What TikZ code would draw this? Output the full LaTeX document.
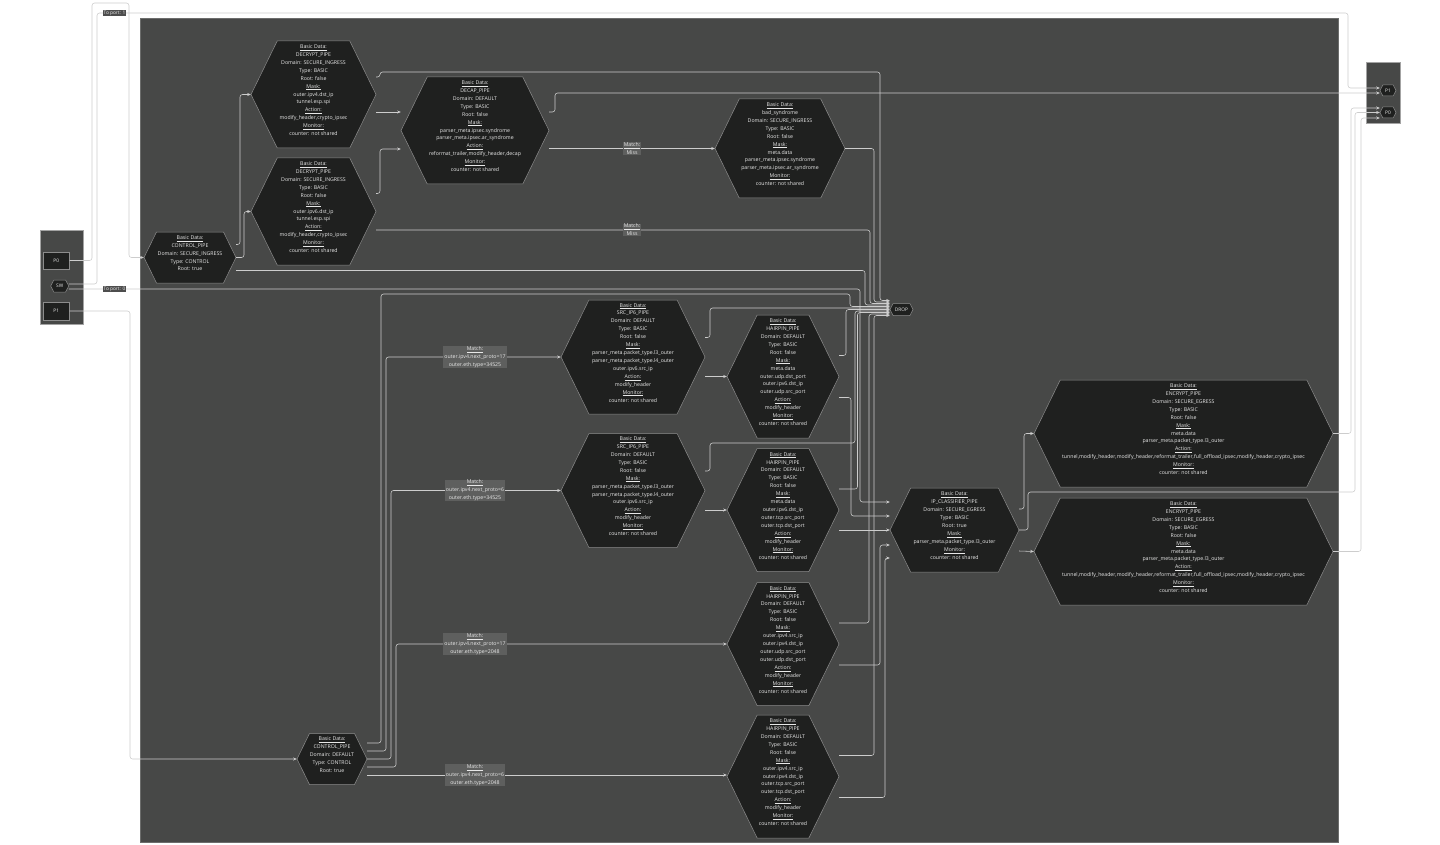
\documentclass[tikz,border=0pt]{standalone}
\usepackage{fontspec}
\setmainfont{Open Sans}
\usetikzlibrary{calc,arrows.meta}
\definecolor{bgdark}{HTML}{474847}
\definecolor{hexfill}{HTML}{1F201F}
\definecolor{hexline}{HTML}{8C8C8C}
\definecolor{edgecol}{HTML}{CDCDCD}
\definecolor{txtcol}{HTML}{E8E8E8}
\definecolor{lblfill}{HTML}{5E5F5E}
\definecolor{portlblfill}{HTML}{4D4D4D}
\newcommand\hdr[1]{\underline{#1}}
\newcommand\hexat[6]{%
  \path[hexsty] ({#2-#4/2},#3) -- ({#2-#4/2+0.245*#5},{#3-#5/2}) -- ({#2+#4/2-0.245*#5},{#3-#5/2}) -- ({#2+#4/2},#3) -- ({#2+#4/2-0.245*#5},{#3+#5/2}) -- ({#2-#4/2+0.245*#5},{#3+#5/2}) -- cycle;
  \node[hextext, minimum width=#4pt, minimum height=#5pt] (#1) at (#2,#3) {\raisebox{4pt}[\height][\depth]{\begin{tabular}{@{}c@{}}#6\end{tabular}}};
}
\newcommand\smallhex[6]{%
  \path[hexsty] ({#2-#4/2},#3) -- ({#2-#4/2+0.26*#5},{#3-#5/2}) -- ({#2+#4/2-0.26*#5},{#3-#5/2}) -- ({#2+#4/2},#3) -- ({#2+#4/2-0.26*#5},{#3+#5/2}) -- ({#2-#4/2+0.26*#5},{#3+#5/2}) -- cycle;
  \node[smalltext, minimum width=#4pt, minimum height=#5pt] (#1) at (#2,#3) {#6};
}
\tikzset{
  hexsty/.style={fill=hexfill, draw=hexline, line width=0.5pt},
  hextext/.style={inner sep=0pt, text=txtcol, font=\fontsize{5.2}{7.92}\selectfont, align=center},
  smalltext/.style={inner sep=0pt, text=txtcol, font=\fontsize{4.8}{5.5}\selectfont},
  edge/.style={draw=edgecol, line width=0.55pt, rounded corners=2.5pt, -{Stealth[length=3.6pt,width=3pt]}},
  matchlbl/.style={fill=lblfill, text=txtcol, font=\fontsize{5.2}{7.92}\selectfont, inner xsep=1pt, inner ysep=0.4pt, align=center},
  portlbl/.style={fill=portlblfill, text=txtcol, font=\fontsize{4.8}{5.5}\selectfont, inner xsep=1pt, inner ysep=0.6pt},
  portrect/.style={fill=hexfill, draw=hexline, line width=0.5pt, text=txtcol, font=\fontsize{4.8}{5.5}\selectfont, inner sep=0pt, minimum width=26pt, minimum height=17.5pt},
  group/.style={fill=bgdark, draw=hexline!80, line width=0.4pt}
}
\begin{document}
\begin{tikzpicture}[x=1pt,y=-1pt]
\useasboundingbox (0,0) rectangle (1440,845);
\fill[white] (0,0) rectangle (1440,845);
% groups
\path[fill=bgdark, draw=bgdark!80!white, line width=0.4pt] (140,18) rectangle (1338,842);
\path[group] (40,230) rectangle (83,324);
\path[group] (1366,62) rectangle (1400,123);
% ports
\node[portrect] (p0l) at (56.3,260.5) {P0};
\node[portrect] (p1l) at (56.3,311) {P1};
\smallhex{swhex}{59.7}{286}{18}{12}{SW}
\smallhex{p1r}{1388}{90.5}{16}{11}{P1}
\smallhex{p0r}{1388}{112.5}{16}{11}{P0}
\smallhex{drop}{901.5}{309.5}{23}{12}{DROP}
% pipes
\hexat{cp1}{190}{257.5}{92}{51}{\hdr{Basic Data:}\\CONTROL\_PIPE\\Domain: SECURE\_INGRESS\\Type: CONTROL\\Root: true}
\hexat{dec1}{313.5}{94.5}{125}{107}{\hdr{Basic Data:}\\DECRYPT\_PIPE\\Domain: SECURE\_INGRESS\\Type: BASIC\\Root: false\\\hdr{Mask:}\\outer.ipv4.dst\_ip\\tunnel.esp.spi\\\hdr{Action:}\\modify\_header,crypto\_ipsec\\\hdr{Monitor:}\\counter: not shared}
\hexat{dec2}{313.5}{211.5}{125}{107}{\hdr{Basic Data:}\\DECRYPT\_PIPE\\Domain: SECURE\_INGRESS\\Type: BASIC\\Root: false\\\hdr{Mask:}\\outer.ipv6.dst\_ip\\tunnel.esp.spi\\\hdr{Action:}\\modify\_header,crypto\_ipsec\\\hdr{Monitor:}\\counter: not shared}
\hexat{decap}{475}{130.5}{148}{107}{\hdr{Basic Data:}\\DECAP\_PIPE\\Domain: DEFAULT\\Type: BASIC\\Root: false\\\hdr{Mask:}\\parser\_meta.ipsec.syndrome\\parser\_meta.ipsec.ar\_syndrome\\\hdr{Action:}\\reformat\_trailer,modify\_header,decap\\\hdr{Monitor:}\\counter: not shared}
\hexat{bad}{780}{148.5}{130}{99}{\hdr{Basic Data:}\\bad\_syndrome\\Domain: SECURE\_INGRESS\\Type: BASIC\\Root: false\\\hdr{Mask:}\\meta.data\\parser\_meta.ipsec.syndrome\\parser\_meta.ipsec.ar\_syndrome\\\hdr{Monitor:}\\counter: not shared}
\hexat{src1}{633}{357}{144}{114}{\hdr{Basic Data:}\\SRC\_IP6\_PIPE\\Domain: DEFAULT\\Type: BASIC\\Root: false\\\hdr{Mask:}\\parser\_meta.packet\_type.l3\_outer\\parser\_meta.packet\_type.l4\_outer\\outer.ipv6.src\_ip\\\hdr{Action:}\\modify\_header\\\hdr{Monitor:}\\counter: not shared}
\hexat{src2}{633}{490.5}{144}{114}{\hdr{Basic Data:}\\SRC\_IP6\_PIPE\\Domain: DEFAULT\\Type: BASIC\\Root: false\\\hdr{Mask:}\\parser\_meta.packet\_type.l3\_outer\\parser\_meta.packet\_type.l4\_outer\\outer.ipv6.src\_ip\\\hdr{Action:}\\modify\_header\\\hdr{Monitor:}\\counter: not shared}
\hexat{hp1}{783}{376.5}{112}{123}{\hdr{Basic Data:}\\HAIRPIN\_PIPE\\Domain: DEFAULT\\Type: BASIC\\Root: false\\\hdr{Mask:}\\meta.data\\outer.udp.dst\_port\\outer.ipv6.dst\_ip\\outer.udp.src\_port\\\hdr{Action:}\\modify\_header\\\hdr{Monitor:}\\counter: not shared}
\hexat{hp2}{783}{510}{112}{123}{\hdr{Basic Data:}\\HAIRPIN\_PIPE\\Domain: DEFAULT\\Type: BASIC\\Root: false\\\hdr{Mask:}\\meta.data\\outer.ipv6.dst\_ip\\outer.tcp.src\_port\\outer.tcp.dst\_port\\\hdr{Action:}\\modify\_header\\\hdr{Monitor:}\\counter: not shared}
\hexat{hp3}{783}{644}{112}{123}{\hdr{Basic Data:}\\HAIRPIN\_PIPE\\Domain: DEFAULT\\Type: BASIC\\Root: false\\\hdr{Mask:}\\outer.ipv4.src\_ip\\outer.ipv4.dst\_ip\\outer.udp.src\_port\\outer.udp.dst\_port\\\hdr{Action:}\\modify\_header\\\hdr{Monitor:}\\counter: not shared}
\hexat{hp4}{783}{776.5}{112}{123}{\hdr{Basic Data:}\\HAIRPIN\_PIPE\\Domain: DEFAULT\\Type: BASIC\\Root: false\\\hdr{Mask:}\\outer.ipv4.src\_ip\\outer.ipv4.dst\_ip\\outer.tcp.src\_port\\outer.tcp.dst\_port\\\hdr{Action:}\\modify\_header\\\hdr{Monitor:}\\counter: not shared}
\hexat{cp2}{332}{759}{70}{51}{\hdr{Basic Data:}\\CONTROL\_PIPE\\Domain: DEFAULT\\Type: CONTROL\\Root: true}
\hexat{ipc}{954.5}{530}{129}{84}{\hdr{Basic Data:}\\IP\_CLASSIFIER\_PIPE\\Domain: SECURE\_EGRESS\\Type: BASIC\\Root: true\\\hdr{Mask:}\\parser\_meta.packet\_type.l3\_outer\\\hdr{Monitor:}\\counter: not shared}
\hexat{enc1}{1183.5}{433.5}{299}{107}{\hdr{Basic Data:}\\ENCRYPT\_PIPE\\Domain: SECURE\_EGRESS\\Type: BASIC\\Root: false\\\hdr{Mask:}\\meta.data\\parser\_meta.packet\_type.l3\_outer\\\hdr{Action:}\\tunnel,modify\_header,modify\_header,reformat\_trailer,full\_offload\_ipsec,modify\_header,crypto\_ipsec\\\hdr{Monitor:}\\counter: not shared}
\hexat{enc2}{1183.5}{551.5}{299}{107}{\hdr{Basic Data:}\\ENCRYPT\_PIPE\\Domain: SECURE\_EGRESS\\Type: BASIC\\Root: false\\\hdr{Mask:}\\meta.data\\parser\_meta.packet\_type.l3\_outer\\\hdr{Action:}\\tunnel,modify\_header,modify\_header,reformat\_trailer,full\_offload\_ipsec,modify\_header,crypto\_ipsec\\\hdr{Monitor:}\\counter: not shared}
% edges from ports
\draw[edge] (p0l.east) -- (92,260.5) -- (92,3) -- (129,3) -- (129,257.5) -- (cp1.west);
\draw[edge] ($(swhex.east)+(0,-2)$) -- (97,284) -- (97,13) -- (1348,13) -- (1348,88) -- ($(p1r.west)+(0,-2.5)$);
\draw[edge] ($(swhex.east)+(0,3)$) -- (860,289) -- (860,502) -- ($(ipc.west)+(0,-28)$);
\draw[edge] (p1l.east) -- (130,311) -- (130,759) -- (cp2.west);
% CP1
\draw[edge] ($(cp1.east)+(0,-13)$) -- (240,244.5) -- (240,94.5) -- (dec1.west);
\draw[edge] (cp1.east) -- (244,257.5) -- (244,211.5) -- (dec2.west);
\draw[edge] ($(cp1.east)+(0,13)$) -- (865,270.5) -- (865,305) -- ($(drop.west)+(0,-4.5)$);
% DEC1 / DEC2
\draw[edge] ($(dec1.east)+(0,-17.5)$) -- (380,77) -- (380,72) -- (880,72) -- (880,300.5) -- ($(drop.west)+(0,-9)$);
\draw[edge] ($(dec1.east)+(0,17.5)$) -- ($(decap.west)+(0,-18.5)$);
\draw[edge] ($(dec2.east)+(0,-18)$) -- (380,193.5) -- (380,149) -- ($(decap.west)+(0,18.5)$);
\draw[edge] ($(dec2.east)+(0,18.5)$) -- (870,230) -- (870,303.5) -- ($(drop.west)+(0,-6)$);
% DECAP / BAD
\draw[edge] ($(decap.east)+(0,18)$) -- (bad.west);
\draw[edge] ($(decap.east)+(0,-18.5)$) -- (555,112) -- (555,93) -- ($(p1r.west)+(0,2.5)$);
\draw[edge] (bad.east) -- (874,148.5) -- (874,302) -- ($(drop.west)+(0,-7.5)$);
% CP2
\draw[edge] ($(cp2.east)+(0,-16)$) -- (381,743) -- (381,294) -- (850,294) -- (850,306.5) -- ($(drop.west)+(0,-3)$);
\draw[edge] ($(cp2.east)+(0,-8)$) -- (386,751) -- (386,357) -- (src1.west);
\draw[edge] (cp2.east) -- (391,759) -- (391,490.5) -- (src2.west);
\draw[edge] ($(cp2.east)+(0,8)$) -- (396,767) -- (396,644) -- (hp3.west);
\draw[edge] ($(cp2.east)+(0,16)$) -- ($(hp4.west)+(0,-1.5)$);
% SRC
\draw[edge] ($(src1.east)+(0,-19.5)$) -- (710,337.5) -- (710,308) -- ($(drop.west)+(0,-1.5)$);
\draw[edge] ($(src1.east)+(0,19.5)$) -- (hp1.west);
\draw[edge] ($(src2.east)+(0,-19.5)$) -- (710,471) -- (710,443) -- (855,443) -- (855,311) -- ($(drop.west)+(0,1.5)$);
\draw[edge] ($(src2.east)+(0,19.5)$) -- (hp2.west);
% HAIRPIN
\draw[edge] ($(hp1.east)+(0,-21)$) -- (846,355.5) -- (846,309.5) -- (drop.west);
\draw[edge] ($(hp1.east)+(0,21)$) -- (851,397.5) -- (851,516) -- ($(ipc.west)+(0,-14)$);
\draw[edge] ($(hp2.east)+(0,-21)$) -- (857.5,489) -- (857.5,312.5) -- ($(drop.west)+(0,3)$);
\draw[edge] ($(hp2.east)+(0,20)$) -- (ipc.west);
\draw[edge] ($(hp3.east)+(0,-21)$) -- (869,623) -- (869,314) -- ($(drop.west)+(0,4.5)$);
\draw[edge] ($(hp3.east)+(0,21)$) -- (880,665) -- (880,545) -- ($(ipc.west)+(0,15)$);
\draw[edge] ($(hp4.east)+(0,-21)$) -- (874,755.5) -- (874,315.5) -- ($(drop.west)+(0,6)$);
\draw[edge] ($(hp4.east)+(0,21)$) -- (885,797.5) -- (885,558) -- ($(ipc.west)+(0,28)$);
% IPC / ENC
\draw[edge] ($(ipc.east)+(0,-21)$) -- (1024,509) -- (1024,433.5) -- (enc1.west);
\draw[edge] (ipc.east) -- (1028,530) -- (1028,492) -- (1355,492) -- (1355,112.5) -- (p0r.west);
\draw[edge] ($(ipc.east)+(0,21)$) -- (enc2.west);
\draw[edge] (enc1.east) -- (1351,433.5) -- (1351,108) -- ($(p0r.west)+(0,-4.5)$);
\draw[edge] (enc2.east) -- (1361,551.5) -- (1361,118) -- ($(p0r.west)+(0,5.5)$);
% labels
\node[portlbl] (tp1) at (114.5,13) {To port: 1};
\node[portlbl] (tp0) at (114.5,289) {To port: 0};
\node[matchlbl] (m1) at (632,148.5) {\hdr{Match:}\\Miss};
\node[matchlbl] (m2) at (632,230) {\hdr{Match:}\\Miss};
\node[matchlbl] (m3) at (475,357) {\hdr{Match:}\\outer.ipv4.next\_proto=17\\outer.eth.type=34525};
\node[matchlbl] (m4) at (475,490.5) {\hdr{Match:}\\outer.ipv4.next\_proto=6\\outer.eth.type=34525};
\node[matchlbl] (m5) at (475,644) {\hdr{Match:}\\outer.ipv4.next\_proto=17\\outer.eth.type=2048};
\node[matchlbl] (m6) at (475,775) {\hdr{Match:}\\outer.ipv4.next\_proto=6\\outer.eth.type=2048};
\end{tikzpicture}
\end{document}
